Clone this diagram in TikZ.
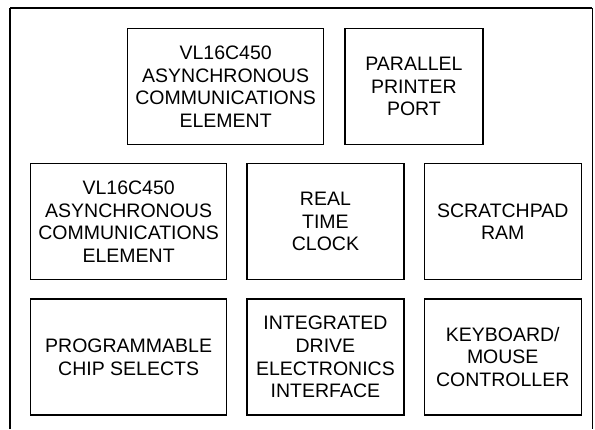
\documentclass[tikz,border=0pt]{standalone}
\usepackage{fontspec}
\setmainfont{Liberation Sans}
\usetikzlibrary{positioning}
\tikzset{
  block/.style={draw,line width=1.3pt,minimum height=116pt,align=center,inner sep=2pt,font=\fontsize{19.5}{22.7}\selectfont},
  wideblock/.style={block,minimum width=196pt},
  narrowblock/.style={block,minimum width=157pt},
  frameline/.style={line width=1.6pt}
}
\begin{document}
\begin{tikzpicture}[x=1pt,y=1pt,node distance=18pt and 19pt]
\useasboundingbox (0,0) rectangle (595,-429);
% outer frame, open at the bottom
\coordinate (fbl) at (10,-429);
\coordinate (ftl) at (10,-8);
\coordinate (ftr) at (592,-8);
\coordinate (fbr) at (592,-429);
\draw[frameline] (ftl) -- (ftr);
\draw[line width=2.6pt] (fbl) -- (ftl);
\draw[line width=1pt] (ftr) -- (fbr);
% top row
\node[wideblock, anchor=north west] (uart1) at (127,-28) {VL16C450\\ASYNCHRONOUS\\COMMUNICATIONS\\ELEMENT};
\node[block, minimum width=138pt, right=20pt of uart1] (lpt) {PARALLEL\\PRINTER\\PORT};
% middle row
\node[wideblock, anchor=north west] (uart2) at (30,-163) {VL16C450\\ASYNCHRONOUS\\COMMUNICATIONS\\ELEMENT};
\node[narrowblock, right=of uart2] (rtc) {REAL\\TIME\\CLOCK};
\node[narrowblock, right=of rtc] (ram) {SCRATCHPAD\\RAM};
% bottom row
\node[wideblock, below=of uart2] (csel) {PROGRAMMABLE\\CHIP SELECTS};
\node[narrowblock, below=of rtc] (ide) {INTEGRATED\\DRIVE\\ELECTRONICS\\INTERFACE};
\node[narrowblock, below=of ram] (kbc) {KEYBOARD/\\MOUSE\\CONTROLLER};
\end{tikzpicture}
\end{document}
